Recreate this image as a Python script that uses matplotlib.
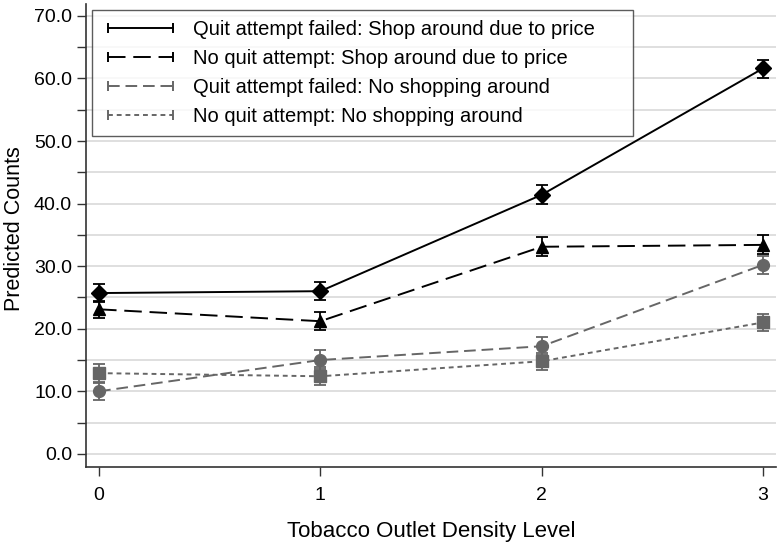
import matplotlib
matplotlib.use('Agg')
from matplotlib import pyplot as plt
from matplotlib.lines import Line2D
import numpy as np

plt.rcParams['font.family'] = ['Liberation Sans', 'DejaVu Sans']

density = [0, 1, 2, 3]
labels = ['Quit attempt failed: Shop around due to price',
          'No quit attempt: Shop around due to price',
          'Quit attempt failed: No shopping around',
          'No quit attempt: No shopping around']

qf_shop = [25.7, 26.0, 41.4, 61.6]
qf_shop_lo = [24.3, 24.6, 39.9, 60.1]
qf_shop_hi = [27.1, 27.5, 42.9, 63.0]

nq_shop = [23.1, 21.2, 33.1, 33.4]
nq_shop_lo = [21.7, 19.8, 31.7, 32.0]
nq_shop_hi = [24.5, 22.7, 34.6, 34.9]

qf_none = [10.0, 15.0, 17.2, 30.2]
qf_none_lo = [8.6, 13.5, 15.8, 28.8]
qf_none_hi = [11.4, 16.6, 18.6, 31.6]

nq_none = [12.9, 12.4, 14.8, 21.0]
nq_none_lo = [11.5, 11.0, 13.4, 19.6]
nq_none_hi = [14.3, 13.9, 16.2, 22.3]

black = '#000000'
gray = '#666666'
series = [
    (qf_shop, qf_shop_lo, qf_shop_hi, black, '-', 'D', 8.5),
    (nq_shop, nq_shop_lo, nq_shop_hi, black, (0, (9, 4)), '^', 9),
    (qf_none, qf_none_lo, qf_none_hi, gray, (0, (6, 3)), 'o', 8.5),
    (nq_none, nq_none_lo, nq_none_hi, gray, (0, (2.5, 2)), 's', 8),
]

fig = plt.figure(figsize=(7.8, 5.46), dpi=100)
ax = fig.add_axes([86 / 780, 1 - 467 / 546, 690 / 780, 463 / 546])

for vals, lo, hi, col, ls, mk, ms in series:
    vals = np.array(vals)
    err = [vals - np.array(lo), np.array(hi) - vals]
    ax.errorbar(density, vals, yerr=err, fmt='none', ecolor=col, elinewidth=1.3,
                capsize=4.5, capthick=1.3, zorder=3)
    ax.plot(density, vals, color=col, linestyle=ls, linewidth=1.4,
            marker=mk, markersize=ms, markerfacecolor=col, markeredgecolor=col, zorder=4)

ax.set_xlim(-0.059, 3.059)
ax.set_ylim(-2.1, 71.9)
ax.set_xticks(density)
ax.set_xticklabels([str(d) for d in density])
ax.set_yticks(np.arange(0, 71, 10))
ax.set_yticklabels(['%.1f' % v for v in np.arange(0, 71, 10)])
ax.set_yticks(np.arange(5, 70, 10), minor=True)
ax.grid(True, which='both', axis='y', color='#dcdcdc', linewidth=1.3)
ax.set_axisbelow(True)

for s in ['top', 'right']:
    ax.spines[s].set_visible(False)
for s in ['left', 'bottom']:
    ax.spines[s].set_color('#333333')
    ax.spines[s].set_linewidth(1.2)

ax.tick_params(axis='both', which='both', direction='out', length=6.5, width=1,
               color='#333333', labelsize=14, pad=3.5)
ax.tick_params(axis='x', pad=8)

ax.set_xlabel('Tobacco Outlet Density Level', fontsize=16, labelpad=12)
ax.set_ylabel('Predicted Counts', fontsize=15.5)
ax.yaxis.set_label_coords(-0.088, 0.514)

handles = []
for vals, lo, hi, col, ls, mk, ms in series:
    handles.append(Line2D([0], [0], color=col, linestyle=ls, linewidth=1.4,
                          marker='|', markersize=6.5, markeredgewidth=1.4))
# legend box is wider than its text in the original, so stretch it
leg = ax.legend(handles, labels, loc='upper left',
                bbox_to_anchor=(6 / 690, 1 - 126 / 463, 541 / 690, 120 / 463),
                mode='expand', borderaxespad=0, fontsize=14.5, numpoints=2,
                handlelength=3.8, frameon=True, fancybox=False, edgecolor='#333333',
                labelspacing=0.5, borderpad=0.5, handletextpad=0.7)
leg.get_frame().set_linewidth(1.0)

fig.savefig('out.png', dpi=100)
